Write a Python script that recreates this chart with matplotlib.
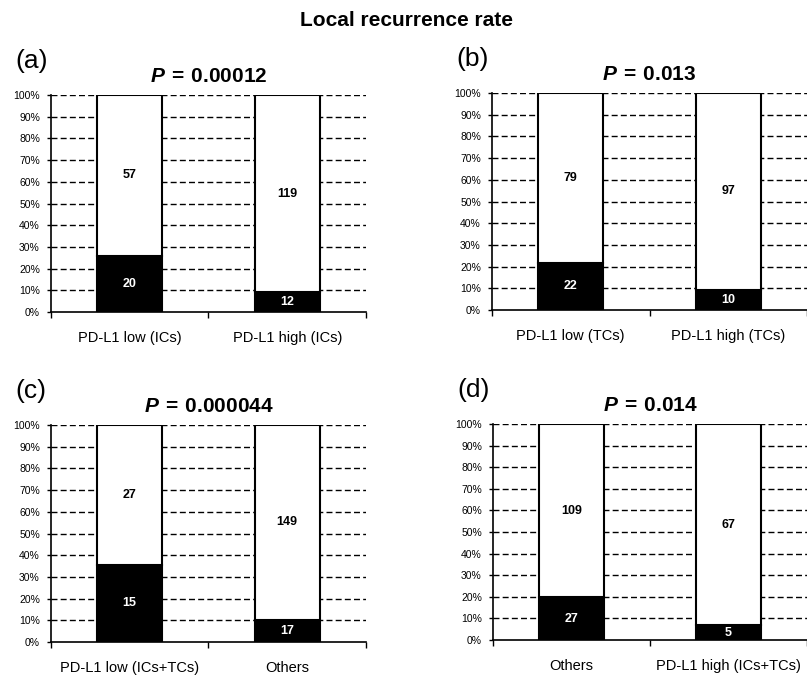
import matplotlib
matplotlib.use("Agg")
import matplotlib.pyplot as plt
from matplotlib.ticker import PercentFormatter

plt.rcParams["font.family"] = ["Liberation Sans", "DejaVu Sans"]
plt.rcParams["mathtext.fontset"] = "custom"
plt.rcParams["mathtext.rm"] = "Liberation Sans"
plt.rcParams["mathtext.it"] = "Liberation Sans:italic"
plt.rcParams["mathtext.bf"] = "Liberation Sans:bold"
plt.rcParams["mathtext.bfit"] = "Liberation Sans:italic:bold"

panels = ["(a)", "(b)", "(c)", "(d)"]
p_values = ["0.00012", "0.013", "0.000044", "0.014"]
categories = [
    ["PD-L1 low (ICs)", "PD-L1 high (ICs)"],
    ["PD-L1 low (TCs)", "PD-L1 high (TCs)"],
    ["PD-L1 low (ICs+TCs)", "Others"],
    ["Others", "PD-L1 high (ICs+TCs)"],
]
recurrence = [[20, 12], [22, 10], [15, 17], [27, 5]]
no_recurrence = [[57, 119], [79, 97], [27, 149], [109, 67]]

W, H = 807, 675
# axes boxes in pixels: left, top, right, bottom
boxes = [(51, 95, 366, 312), (492, 93, 807, 310),
         (51, 425, 366, 642), (493, 424, 807, 640)]

fig = plt.figure(figsize=(W / 100, H / 100), dpi=100)
fig.text(406 / W, 1 - 20 / H, "Local recurrence rate", ha="center", va="center",
         fontsize=15, fontweight="bold")

for i in range(4):
    l, t, r, b = boxes[i]
    ax = fig.add_axes([l / W, 1 - b / H, (r - l) / W, (b - t) / H])
    x = [0, 1]
    tot = [recurrence[i][k] + no_recurrence[i][k] for k in range(2)]
    rec_pct = [recurrence[i][k] / tot[k] * 100 for k in range(2)]
    non_pct = [no_recurrence[i][k] / tot[k] * 100 for k in range(2)]

    for yv in range(10, 101, 10):
        ax.axhline(yv, color="black", lw=1.0, dashes=(4.3, 2.3), zorder=1)
    ax.bar(x, rec_pct, width=0.41, color="black", edgecolor="black", lw=1.5, zorder=2)
    ax.bar(x, non_pct, width=0.41, bottom=rec_pct, color="white", edgecolor="black",
           lw=1.5, zorder=2)
    for k in range(2):
        ax.text(x[k], rec_pct[k] / 2, str(recurrence[i][k]), ha="center", va="center",
                color="white", fontsize=9, fontweight="bold", zorder=3)
        ax.text(x[k], rec_pct[k] + non_pct[k] / 2, str(no_recurrence[i][k]), ha="center",
                va="center", color="black", fontsize=9, fontweight="bold", zorder=3)

    ax.set_xlim(-0.5, 1.5)
    ax.set_ylim(0, 100)
    ax.set_yticks(range(0, 101, 10))
    ax.yaxis.set_major_formatter(PercentFormatter(decimals=0))
    ax.tick_params(axis="y", labelsize=7.5, length=3, width=1, pad=5)
    ax.set_xticks(x, categories[i])
    ax.set_xticks([-0.5, 0.5, 1.5], minor=True)
    ax.tick_params(axis="x", which="major", length=0, labelsize=10.5, pad=14)
    ax.tick_params(axis="x", which="minor", length=4, width=1)
    for s in ["top", "right"]:
        ax.spines[s].set_visible(False)
    for s in ["left", "bottom"]:
        ax.spines[s].set_linewidth(1.2)

    ax.text(0.5, 1.085, r"$\boldsymbol{P}\:\mathbf{=}\:\mathbf{" + p_values[i] + "}$",
            transform=ax.transAxes, ha="center", va="center", fontsize=15)
    fig.text((l - 36) / W, 1 - (t - 34) / H, panels[i], ha="left", va="center",
             fontsize=19)

fig.savefig("out.png", dpi=100)
